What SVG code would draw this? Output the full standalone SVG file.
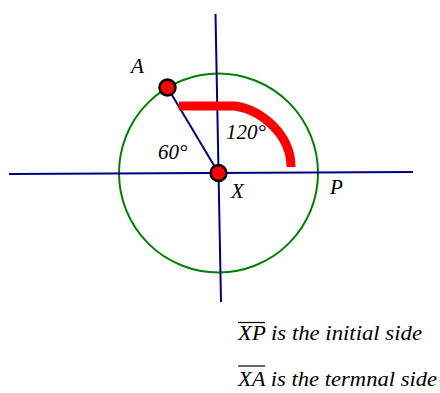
<svg xmlns="http://www.w3.org/2000/svg" width="440" height="393" viewBox="0 0 440 393">
<style>
.ax{stroke:#000080;stroke-width:2;fill:none}
.pt{fill:#ff0000;stroke:#000;stroke-width:2.5}
.ol{stroke:#000;stroke-width:1.2}
</style>
<rect width="440" height="393" fill="#fff"/>
<g id="circle"><circle cx="218.5" cy="173" r="99.5" fill="none" stroke="#008000" stroke-width="2"/></g>
<g id="connectors">
<line class="ax" x1="9" y1="174" x2="413" y2="172"/>
<line class="ax" x1="215.5" y1="14" x2="221" y2="302"/>
<line class="ax" x1="167.5" y1="87.5" x2="218.5" y2="173"/>
<path d="M179 106 H235 C262 110 291 135 291 167" fill="none" stroke="#ff0000" stroke-width="9" stroke-linejoin="round"/>
</g>
<g font-family="Liberation Serif, serif" font-style="italic" font-size="21" fill="#000">
<g id="A"><circle class="pt" cx="167.5" cy="87.5" r="8"/><text x="131" y="73">A</text></g>
<g id="X"><circle class="pt" cx="218.5" cy="173" r="8"/><text x="231" y="198">X</text></g>
<g id="P"><text x="330" y="194">P</text></g>
<g id="angles"><text x="158" y="159">60°</text><text x="226" y="139">120°</text></g>
<g id="notes">
<text x="238" y="339.5" textLength="184" lengthAdjust="spacingAndGlyphs">XP is the initial side</text>
<line class="ol" x1="238" y1="322.5" x2="265" y2="322.5"/>
<text x="238" y="386" textLength="199" lengthAdjust="spacingAndGlyphs">XA is the termnal side</text>
<line class="ol" x1="238" y1="366" x2="265" y2="366"/>
</g>
</g>
</svg>
